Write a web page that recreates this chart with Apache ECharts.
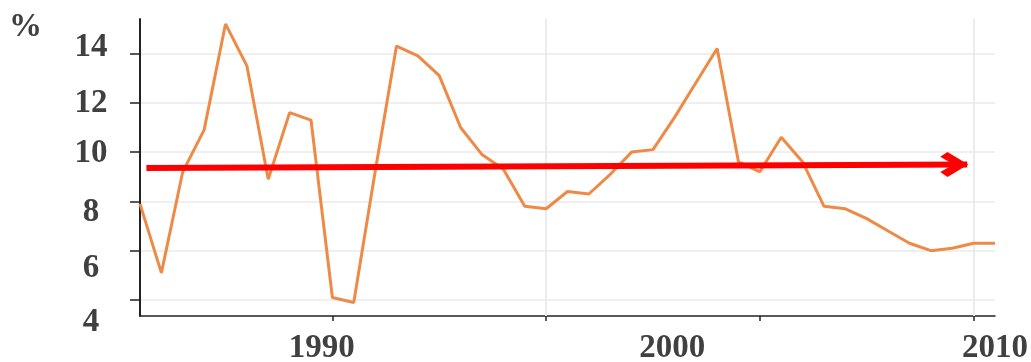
<!DOCTYPE html>
<html>
<head>
<meta charset="utf-8">
<script src="https://cdn.jsdelivr.net/npm/echarts@6/dist/echarts.min.js"></script>
<style>
  html, body { margin: 0; padding: 0; background: #fff; }
  #chart { width: 1031px; height: 362px; }
</style>
</head>
<body>
<div id="chart"></div>
<script>
const years = [
  1980, 1981, 1982, 1983, 1984, 1985, 1986, 1987, 1988, 1989,
  1990, 1991, 1992, 1993, 1994, 1995, 1996, 1997, 1998, 1999,
  2000, 2001, 2002, 2003, 2004, 2005, 2006, 2007, 2008, 2009,
  2010, 2011, 2012, 2013, 2014, 2015, 2016, 2017, 2018, 2019, 2020
];
const growth = [
  7.9, 5.1, 9.2, 10.9, 15.2, 13.5, 8.9, 11.6, 11.3, 4.1,
  3.9, 9.2, 14.3, 13.9, 13.1, 11.0, 9.9, 9.3, 7.8, 7.7,
  8.4, 8.3, 9.1, 10.0, 10.1, 11.4, 12.8, 14.2, 9.6, 9.2,
  10.6, 9.6, 7.8, 7.7, 7.3, 6.8, 6.3, 6.0, 6.1, 6.3, 6.3
];
// red trend arrow, start and end
const trendX = [1980.3, 2018.7];
const trendY = [9.35, 9.5];

const yTicks = [4, 6, 8, 10, 12, 14];
const xTicks = [1989, 1999, 2009, 2019];
const xGridAt = [1999, 2019];
const xLabelText = ["1990", "2000", "2010"];
const xLabelAt = [1988.5, 2004.9, 2020];

const font = { fontFamily: "Liberation Serif", fontWeight: "bold", fontSize: 33, color: "#404040" };
const chevron = "path://M8,0 L28,13 L8,26 L1,21 L14,13 L1,5 Z";

// labels in the picture sit off their gridlines, nudge each one
const yShift = { 4: [44, 0, 0, 0], 6: [36, 0, 0, 0], 8: [22, 0, 0, 0], 10: [2, 0, 0, 0], 12: [2, 0, 0, 0], 14: [0, 0, 12, 0] };
const yRich = {};
yTicks.forEach((v) => { yRich["s" + v] = Object.assign({ padding: yShift[v] }, font); });

const chart = echarts.init(document.getElementById("chart"));
chart.setOption({
  animation: false,
  title: {
    text: "%",
    left: 4,
    top: 6,
    textStyle: { fontFamily: "Liberation Serif", fontWeight: "bold", fontSize: 33, color: "#404040" }
  },
  grid: { left: 140, right: 36, top: 19, bottom: 46, outerBoundsMode: "none" },
  xAxis: {
    type: "value",
    min: 1980,
    max: 2020,
    axisLine: { lineStyle: { color: "#222", width: 1.5 } },
    axisTick: { customValues: xTicks, length: 5, lineStyle: { color: "#222", width: 1.5 } },
    axisLabel: Object.assign({
      customValues: xLabelAt,
      margin: 16,
      formatter: (v) => xLabelText[xLabelAt.indexOf(v)] || ""
    }, font),
    splitLine: { show: false }
  },
  yAxis: {
    type: "value",
    min: 3.35,
    max: 15.4,
    axisLine: { show: true, lineStyle: { color: "#222", width: 2 } },
    axisTick: { show: true, customValues: yTicks, length: 10, lineStyle: { color: "#222", width: 1.5 } },
    axisLabel: Object.assign({
      customValues: yTicks,
      align: "center",
      margin: 49,
      formatter: (v) => "{s" + v + "|" + v + "}",
      rich: yRich
    }, font),
    splitLine: { show: true, lineStyle: { color: "#efefef", width: 2 } }
  },
  series: [
    {
      type: "line",
      data: years.map((y, i) => [y, growth[i]]),
      showSymbol: false,
      lineStyle: { color: "#EE8A45", width: 3 },
      itemStyle: { color: "#EE8A45" },
      z: 2,
      markLine: {
        silent: true,
        z: 1,
        symbol: "none",
        label: { show: false },
        lineStyle: { color: "#ebebeb", width: 2, type: "solid" },
        data: xGridAt.map((x) => ({ xAxis: x }))
      }
    },
    {
      type: "line",
      z: 3,
      data: trendX.map((x, i) => (i === 0
        ? { value: [x, trendY[i]], symbol: "none" }
        : { value: [x, trendY[i]], symbol: chevron, symbolSize: [28, 25], symbolOffset: [-13, 0] })),
      showSymbol: true,
      lineStyle: { color: "#FF0000", width: 6 },
      itemStyle: { color: "#FF0000" }
    }
  ]
});
</script>
</body>
</html>
